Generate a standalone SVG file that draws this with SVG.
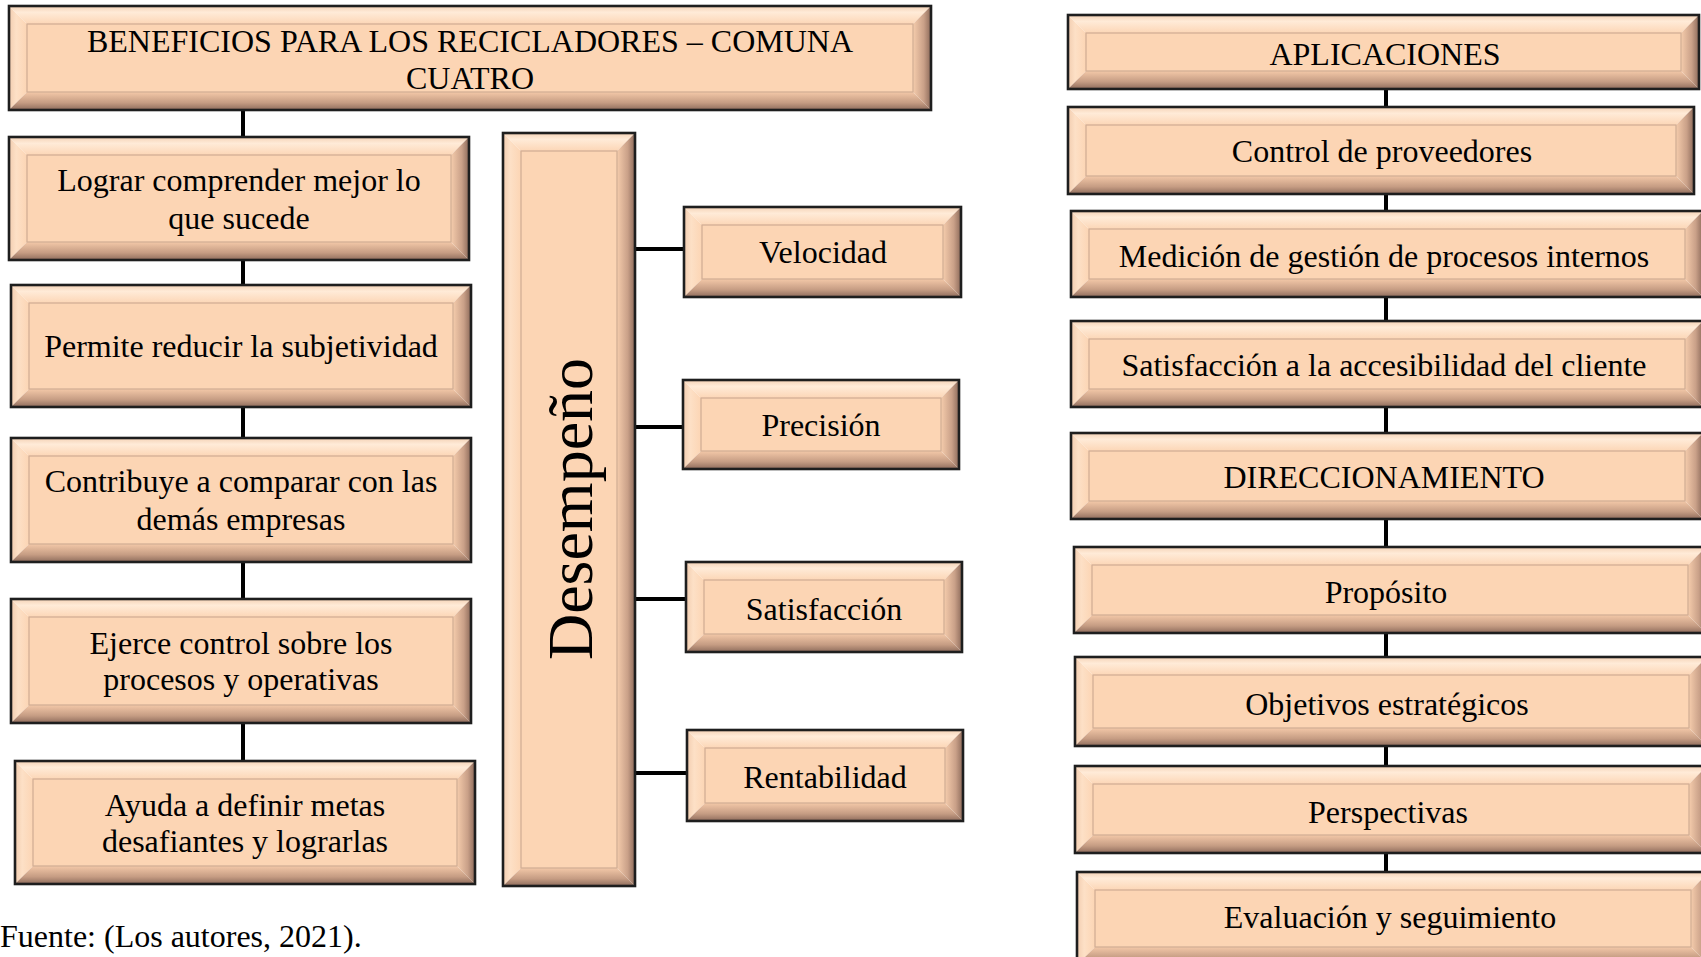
<svg xmlns="http://www.w3.org/2000/svg" width="1701" height="957" viewBox="0 0 1701 957">
<style>
.bt{fill:url(#gT)}.bl{fill:url(#gL)}.br{fill:url(#gR)}.bb{fill:url(#gB)}
.in{fill:#FCD5B4;stroke:#D3AF96;stroke-width:1.3}
.ol{fill:none;stroke:#1e1e1e;stroke-width:2.6}
.t{font-family:"Liberation Serif","Times New Roman",serif;font-size:32px;fill:#000;text-anchor:middle}
.c{stroke:#000;stroke-width:4;fill:none}
</style>
<defs>
<linearGradient id="gT" x1="0" y1="0" x2="0" y2="1"><stop offset="0" stop-color="#F4D2B6"/><stop offset="0.35" stop-color="#FFEBD8"/><stop offset="1" stop-color="#FCD6B6"/></linearGradient>
<linearGradient id="gL" x1="0" y1="0" x2="1" y2="0"><stop offset="0" stop-color="#F2CDB0"/><stop offset="0.4" stop-color="#FDE0C6"/><stop offset="1" stop-color="#FCD5B4"/></linearGradient>
<linearGradient id="gR" x1="0" y1="0" x2="1" y2="0"><stop offset="0" stop-color="#F5CCAC"/><stop offset="0.6" stop-color="#C9A088"/><stop offset="1" stop-color="#8C6A5A"/></linearGradient>
<linearGradient id="gB" x1="0" y1="0" x2="0" y2="1"><stop offset="0" stop-color="#F3C8A8"/><stop offset="0.6" stop-color="#C59C83"/><stop offset="1" stop-color="#8E6C5C"/></linearGradient>
</defs>
<rect width="1701" height="957" fill="#fff"/>

<g id="connectors">
<path class="c" d="M243 110V137M243 260V285M243 407V438M243 562V599M243 723V761"/>
<path class="c" d="M632 249H684M632 427H683M633 599H686M633 773H691"/>
<path class="c" d="M1386 89V107M1386 194V211M1386 297V321M1386 407V433M1386 519V547M1386 633V657M1386 746V766M1386 853V872"/>
</g>

<g id="title">
<polygon class="bt" points="9,6 931,6 913,24 27,24"/><polygon class="bl" points="9,6 27,24 27,92 9,110"/><polygon class="br" points="931,6 931,110 913,92 913,24"/><polygon class="bb" points="9,110 27,92 913,92 931,110"/>
<rect class="in" x="27" y="24" width="886" height="68"/><rect class="ol" x="9" y="6" width="922" height="104"/>
<text class="t" x="470" y="52">BENEFICIOS PARA LOS RECICLADORES – COMUNA</text>
<text class="t" x="470" y="89">CUATRO</text>
</g>

<g id="n-lograr">
<polygon class="bt" points="9,137 469,137 451,155 27,155"/><polygon class="bl" points="9,137 27,155 27,242 9,260"/><polygon class="br" points="469,137 469,260 451,242 451,155"/><polygon class="bb" points="9,260 27,242 451,242 469,260"/>
<rect class="in" x="27" y="155" width="424" height="87"/><rect class="ol" x="9" y="137" width="460" height="123"/>
<text class="t" x="239" y="191">Lograr comprender mejor lo</text>
<text class="t" x="239" y="229">que sucede</text>
</g>

<g id="n-permite">
<polygon class="bt" points="11,285 471,285 453,303 29,303"/><polygon class="bl" points="11,285 29,303 29,389 11,407"/><polygon class="br" points="471,285 471,407 453,389 453,303"/><polygon class="bb" points="11,407 29,389 453,389 471,407"/>
<rect class="in" x="29" y="303" width="424" height="86"/><rect class="ol" x="11" y="285" width="460" height="122"/>
<text class="t" x="241" y="357">Permite reducir la subjetividad</text>
</g>

<g id="n-contribuye">
<polygon class="bt" points="11,438 471,438 453,456 29,456"/><polygon class="bl" points="11,438 29,456 29,544 11,562"/><polygon class="br" points="471,438 471,562 453,544 453,456"/><polygon class="bb" points="11,562 29,544 453,544 471,562"/>
<rect class="in" x="29" y="456" width="424" height="88"/><rect class="ol" x="11" y="438" width="460" height="124"/>
<text class="t" x="241" y="492">Contribuye a comparar con las</text>
<text class="t" x="241" y="530">demás empresas</text>
</g>

<g id="n-ejerce">
<polygon class="bt" points="11,599 471,599 453,617 29,617"/><polygon class="bl" points="11,599 29,617 29,705 11,723"/><polygon class="br" points="471,599 471,723 453,705 453,617"/><polygon class="bb" points="11,723 29,705 453,705 471,723"/>
<rect class="in" x="29" y="617" width="424" height="88"/><rect class="ol" x="11" y="599" width="460" height="124"/>
<text class="t" x="241" y="654">Ejerce control sobre los</text>
<text class="t" x="241" y="690">procesos y operativas</text>
</g>

<g id="n-ayuda">
<polygon class="bt" points="15,761 475,761 457,779 33,779"/><polygon class="bl" points="15,761 33,779 33,866 15,884"/><polygon class="br" points="475,761 475,884 457,866 457,779"/><polygon class="bb" points="15,884 33,866 457,866 475,884"/>
<rect class="in" x="33" y="779" width="424" height="87"/><rect class="ol" x="15" y="761" width="460" height="123"/>
<text class="t" x="245" y="816">Ayuda a definir metas</text>
<text class="t" x="245" y="852">desafiantes y lograrlas</text>
</g>

<g id="n-desempeno">
<polygon class="bt" points="503,133 635,133 617,151 521,151"/><polygon class="bl" points="503,133 521,151 521,868 503,886"/><polygon class="br" points="635,133 635,886 617,868 617,151"/><polygon class="bb" points="503,886 521,868 617,868 635,886"/>
<rect class="in" x="521" y="151" width="96" height="717"/><rect class="ol" x="503" y="133" width="132" height="753"/>
<text class="t" style="font-size:64px" transform="translate(592 509) rotate(-90)">Desempeño</text>
</g>

<g id="n-velocidad">
<polygon class="bt" points="684,207 961,207 943,225 702,225"/><polygon class="bl" points="684,207 702,225 702,279 684,297"/><polygon class="br" points="961,207 961,297 943,279 943,225"/><polygon class="bb" points="684,297 702,279 943,279 961,297"/>
<rect class="in" x="702" y="225" width="241" height="54"/><rect class="ol" x="684" y="207" width="277" height="90"/>
<text class="t" x="823" y="263">Velocidad</text>
</g>

<g id="n-precision">
<polygon class="bt" points="683,380 959,380 941,398 701,398"/><polygon class="bl" points="683,380 701,398 701,451 683,469"/><polygon class="br" points="959,380 959,469 941,451 941,398"/><polygon class="bb" points="683,469 701,451 941,451 959,469"/>
<rect class="in" x="701" y="398" width="240" height="53"/><rect class="ol" x="683" y="380" width="276" height="89"/>
<text class="t" x="821" y="436">Precisión</text>
</g>

<g id="n-satisfaccion">
<polygon class="bt" points="686,562 962,562 944,580 704,580"/><polygon class="bl" points="686,562 704,580 704,634 686,652"/><polygon class="br" points="962,562 962,652 944,634 944,580"/><polygon class="bb" points="686,652 704,634 944,634 962,652"/>
<rect class="in" x="704" y="580" width="240" height="54"/><rect class="ol" x="686" y="562" width="276" height="90"/>
<text class="t" x="824" y="620">Satisfacción</text>
</g>

<g id="n-rentabilidad">
<polygon class="bt" points="687,730 963,730 945,748 705,748"/><polygon class="bl" points="687,730 705,748 705,803 687,821"/><polygon class="br" points="963,730 963,821 945,803 945,748"/><polygon class="bb" points="687,821 705,803 945,803 963,821"/>
<rect class="in" x="705" y="748" width="240" height="55"/><rect class="ol" x="687" y="730" width="276" height="91"/>
<text class="t" x="825" y="788">Rentabilidad</text>
</g>

<g id="n-aplicaciones">
<polygon class="bt" points="1068,15 1699,15 1681,33 1086,33"/><polygon class="bl" points="1068,15 1086,33 1086,71 1068,89"/><polygon class="br" points="1699,15 1699,89 1681,71 1681,33"/><polygon class="bb" points="1068,89 1086,71 1681,71 1699,89"/>
<rect class="in" x="1086" y="33" width="595" height="38"/><rect class="ol" x="1068" y="15" width="631" height="74"/>
<text class="t" x="1385" y="65">APLICACIONES</text>
</g>

<g id="n-control">
<polygon class="bt" points="1068,107 1694,107 1676,125 1086,125"/><polygon class="bl" points="1068,107 1086,125 1086,176 1068,194"/><polygon class="br" points="1694,107 1694,194 1676,176 1676,125"/><polygon class="bb" points="1068,194 1086,176 1676,176 1694,194"/>
<rect class="in" x="1086" y="125" width="590" height="51"/><rect class="ol" x="1068" y="107" width="626" height="87"/>
<text class="t" x="1382" y="162">Control de proveedores</text>
</g>

<g id="n-medicion">
<polygon class="bt" points="1071,211 1703,211 1685,229 1089,229"/><polygon class="bl" points="1071,211 1089,229 1089,279 1071,297"/><polygon class="br" points="1703,211 1703,297 1685,279 1685,229"/><polygon class="bb" points="1071,297 1089,279 1685,279 1703,297"/>
<rect class="in" x="1089" y="229" width="596" height="50"/><rect class="ol" x="1071" y="211" width="632" height="86"/>
<text class="t" x="1384" y="267">Medición de gestión de procesos internos</text>
</g>

<g id="n-satisfaccion-cliente">
<polygon class="bt" points="1071,321 1703,321 1685,339 1089,339"/><polygon class="bl" points="1071,321 1089,339 1089,389 1071,407"/><polygon class="br" points="1703,321 1703,407 1685,389 1685,339"/><polygon class="bb" points="1071,407 1089,389 1685,389 1703,407"/>
<rect class="in" x="1089" y="339" width="596" height="50"/><rect class="ol" x="1071" y="321" width="632" height="86"/>
<text class="t" x="1384" y="376">Satisfacción a la accesibilidad del cliente</text>
</g>

<g id="n-direccionamiento">
<polygon class="bt" points="1071,433 1703,433 1685,451 1089,451"/><polygon class="bl" points="1071,433 1089,451 1089,501 1071,519"/><polygon class="br" points="1703,433 1703,519 1685,501 1685,451"/><polygon class="bb" points="1071,519 1089,501 1685,501 1703,519"/>
<rect class="in" x="1089" y="451" width="596" height="50"/><rect class="ol" x="1071" y="433" width="632" height="86"/>
<text class="t" x="1384" y="488">DIRECCIONAMIENTO</text>
</g>

<g id="n-proposito">
<polygon class="bt" points="1074,547 1706,547 1688,565 1092,565"/><polygon class="bl" points="1074,547 1092,565 1092,615 1074,633"/><polygon class="br" points="1706,547 1706,633 1688,615 1688,565"/><polygon class="bb" points="1074,633 1092,615 1688,615 1706,633"/>
<rect class="in" x="1092" y="565" width="596" height="50"/><rect class="ol" x="1074" y="547" width="632" height="86"/>
<text class="t" x="1386" y="603">Propósito</text>
</g>

<g id="n-objetivos">
<polygon class="bt" points="1075,657 1707,657 1689,675 1093,675"/><polygon class="bl" points="1075,657 1093,675 1093,728 1075,746"/><polygon class="br" points="1707,657 1707,746 1689,728 1689,675"/><polygon class="bb" points="1075,746 1093,728 1689,728 1707,746"/>
<rect class="in" x="1093" y="675" width="596" height="53"/><rect class="ol" x="1075" y="657" width="632" height="89"/>
<text class="t" x="1387" y="715">Objetivos estratégicos</text>
</g>

<g id="n-perspectivas">
<polygon class="bt" points="1075,766 1707,766 1689,784 1093,784"/><polygon class="bl" points="1075,766 1093,784 1093,835 1075,853"/><polygon class="br" points="1707,766 1707,853 1689,835 1689,784"/><polygon class="bb" points="1075,853 1093,835 1689,835 1707,853"/>
<rect class="in" x="1093" y="784" width="596" height="51"/><rect class="ol" x="1075" y="766" width="632" height="87"/>
<text class="t" x="1388" y="823">Perspectivas</text>
</g>

<g id="n-evaluacion">
<polygon class="bt" points="1077,872 1709,872 1691,890 1095,890"/><polygon class="bl" points="1077,872 1095,890 1095,947 1077,965"/><polygon class="br" points="1709,872 1709,965 1691,947 1691,890"/><polygon class="bb" points="1077,965 1095,947 1691,947 1709,965"/>
<rect class="in" x="1095" y="890" width="596" height="57"/><rect class="ol" x="1077" y="872" width="632" height="93"/>
<text class="t" x="1390" y="928">Evaluación y seguimiento</text>
</g>

<text class="t" style="text-anchor:start" x="0" y="947">Fuente: (Los autores, 2021).</text>
</svg>
